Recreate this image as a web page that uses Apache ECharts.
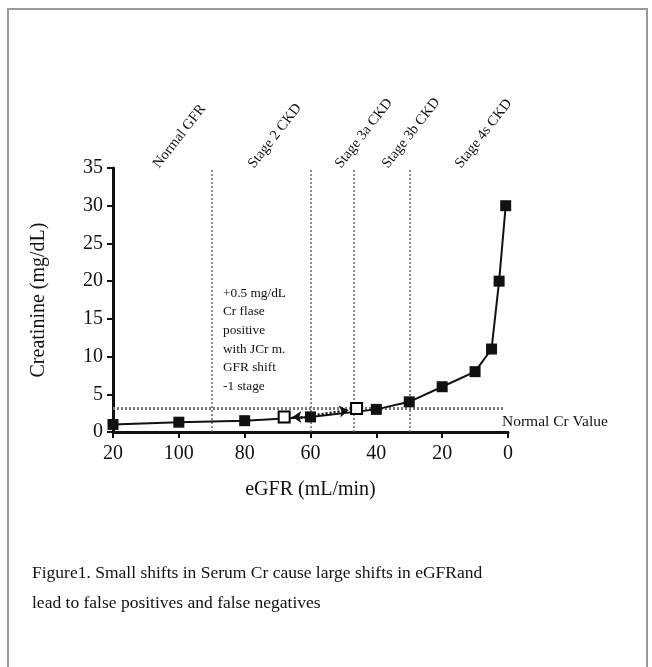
<!DOCTYPE html>
<html>
<head>
<meta charset="utf-8">
<script src="https://cdn.jsdelivr.net/npm/echarts@6/dist/echarts.min.js"></script>
<style>
  html, body { margin: 0; padding: 0; background: #fff; }
  #frame { position: absolute; left: 7px; top: 8px; width: 641px; height: 700px; border: 2px solid #9a9a9a; box-sizing: border-box; }
  #main { position: absolute; left: 0; top: 0; width: 652px; height: 667px; }
</style>
</head>
<body>
<div id="frame"></div>
<div id="main"></div>
<script>
// measured creatinine curve (filled squares)
const egfr = [120, 100, 80, 60, 40, 30, 20, 10, 5, 2.7, 0.7];
const creatinine = [1.0, 1.3, 1.5, 2.0, 3.0, 4.0, 6.0, 8.0, 11.0, 20.0, 30.0];
// shifted points (open squares)
const shiftEgfr = [68, 46];
const shiftCr = [2.0, 3.1];
// stage boundaries and normal Cr line
const stageBounds = [90, 60, 47, 30];
const normalCr = 3.2;
const stageNames = ["Normal GFR", "Stage 2 CKD", "Stage 3a CKD", "Stage 3b CKD", "Stage 4s CKD"];
const xTickLabels = { 120: "20", 100: "100", 80: "80", 60: "60", 40: "40", 20: "20", 0: "0" };
const noteLines = ["+0.5 mg/dL", "Cr flase", "positive", "with JCr m.", "GFR shift", "-1 stage"];

const serif = "'Liberation Serif', 'Times New Roman', serif";
const chart = echarts.init(document.getElementById("main"));

// rotated stage labels, anchored at bottom-left
const stageX = [162, 257, 344, 391, 464];
const stageGraphics = stageNames.map((name, i) => ({
  type: "text",
  x: stageX[i],
  y: 171,
  rotation: 52 * Math.PI / 180,
  style: { text: name, font: "14.5px " + serif, fill: "#111", textAlign: "left", textVerticalAlign: "bottom" }
}));

const option = {
  animation: false,
  backgroundColor: "transparent",
  grid: { left: 113, right: 144, top: 168, bottom: 235, containLabel: false },
  xAxis: {
    type: "value", inverse: true, min: 0, max: 120, interval: 20,
    name: "eGFR (mL/min)", nameLocation: "middle", nameGap: 48,
    nameTextStyle: { fontFamily: serif, fontSize: 20, color: "#111" },
    axisLine: { show: true, onZero: false, lineStyle: { color: "#111", width: 3 } },
    axisTick: { show: true, length: 6, lineStyle: { color: "#111", width: 2 } },
    axisLabel: { fontFamily: serif, fontSize: 20, color: "#111", margin: 12, formatter: v => xTickLabels[v] },
    splitLine: { show: false }
  },
  yAxis: {
    type: "value", min: 0, max: 35, interval: 5, position: "left",
    name: "Creatinine (mg/dL)", nameLocation: "middle", nameGap: 64,
    nameTextStyle: { fontFamily: serif, fontSize: 20, color: "#111" },
    axisLine: { show: true, onZero: false, lineStyle: { color: "#111", width: 3 } },
    axisTick: { show: true, length: 6, lineStyle: { color: "#111", width: 2 } },
    axisLabel: { fontFamily: serif, fontSize: 20, color: "#111", margin: 10 },
    splitLine: { show: false }
  },
  series: [
    {
      type: "line",
      data: egfr.map((x, i) => [x, creatinine[i]]),
      symbol: "rect", symbolSize: 11,
      lineStyle: { color: "#111", width: 2 },
      itemStyle: { color: "#111" },
      z: 5,
      markLine: {
        silent: true, symbol: "none", label: { show: false },
        lineStyle: { color: "#666", width: 1.5, type: [2, 2] },
        data: stageBounds.map(v => ({ xAxis: v }))
          .concat([[{ coord: [120, normalCr], lineStyle: { color: "#777", width: 3, type: [2, 2] } }, { coord: [1, normalCr] }]])
      }
    },
    {
      type: "scatter",
      data: shiftEgfr.map((x, i) => [x, shiftCr[i]]),
      symbol: "rect", symbolSize: 11,
      itemStyle: { color: "#fff", borderColor: "#000", borderWidth: 2, opacity: 1 },
      z: 8,
      markLine: {
        silent: true, symbol: ["none", "arrow"], symbolSize: 9, label: { show: false },
        lineStyle: { color: "#111", width: 2.5, type: [2, 2] },
        data: [
          [{ coord: [60, 2.0] }, { coord: [65.5, 2.0] }],
          [{ coord: [59, 2.2] }, { coord: [48.5, 2.9] }]
        ]
      }
    }
  ],
  graphic: stageGraphics.concat([
    {
      type: "text", x: 223, y: 284,
      style: { text: noteLines.join("\n"), font: "13.3px " + serif, lineHeight: 18.6, fill: "#111" }
    },
    {
      type: "text", x: 502, y: 414,
      style: { text: "Normal Cr Value", font: "15.5px " + serif, fill: "#111" }
    },
    {
      type: "text", x: 32, y: 558,
      style: { text: "Figure1. Small shifts in Serum Cr cause large shifts in eGFRand\nlead to false positives and false negatives", font: "17.5px " + serif, lineHeight: 30, fill: "#111" }
    }
  ])
};

chart.setOption(option);
window.addEventListener("resize", () => chart.resize());
</script>
</body>
</html>
